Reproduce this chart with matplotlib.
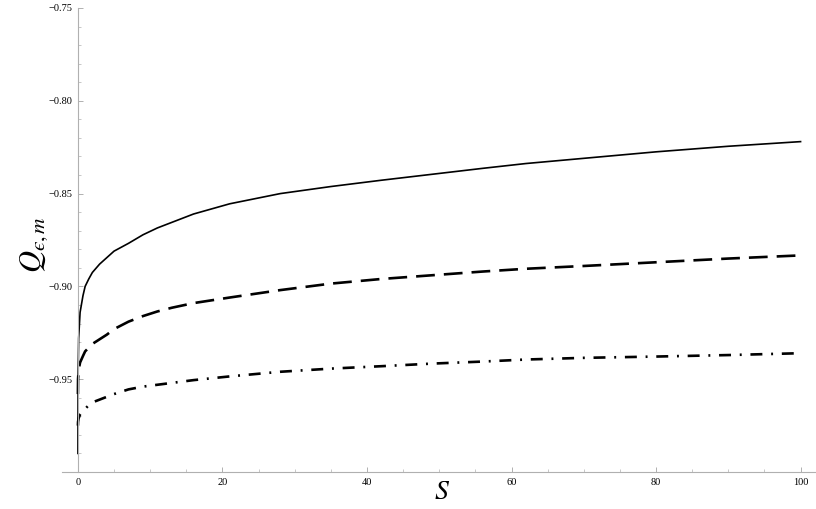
import matplotlib
matplotlib.use("Agg")
import matplotlib.pyplot as plt
from matplotlib.ticker import MultipleLocator, FixedLocator, FuncFormatter

plt.rcParams['font.family'] = ['Liberation Serif', 'DejaVu Serif']
plt.rcParams['mathtext.fontset'] = 'stix'
plt.rcParams['lines.scale_dashes'] = False

# значення
s = [0, 0.02, 0.1, 0.3, 0.7, 1, 1.5, 2, 3, 4, 5, 7, 9, 11, 13, 16, 21, 28, 35, 42, 49, 56,
     62, 70, 80, 90, 100]
q_solid = [-0.990, -0.950, -0.928, -0.914, -0.905, -0.900, -0.896, -0.8925, -0.888, -0.8845,
           -0.881, -0.8768, -0.8722, -0.8685, -0.8655, -0.861, -0.8555, -0.850, -0.8462,
           -0.8428, -0.8396, -0.8364, -0.8338, -0.831, -0.8275, -0.8245, -0.822]
q_dash = [-0.958, -0.950, -0.945, -0.941, -0.9375, -0.935, -0.933, -0.931, -0.9285, -0.926,
          -0.923, -0.919, -0.916, -0.9135, -0.9115, -0.909, -0.906, -0.902, -0.8985, -0.896,
          -0.894, -0.892, -0.8905, -0.889, -0.887, -0.885, -0.8833]
q_dashdot = [-0.975, -0.973, -0.971, -0.969, -0.967, -0.966, -0.964, -0.9625, -0.961, -0.9595,
             -0.958, -0.9555, -0.954, -0.953, -0.952, -0.9505, -0.9485, -0.946, -0.9443,
             -0.943, -0.9416, -0.9405, -0.9394, -0.9385, -0.9378, -0.937, -0.936]

fig = plt.figure(figsize=(8.16, 5.09), dpi=100)
ax = fig.add_axes([0.076, 0.0727, 0.9228, 0.9116])

ax.plot(s, q_solid, color='black', linewidth=1.2)
ax.plot(s, q_dash, color='black', linewidth=1.9, dashes=(13.5, 6.5))
ax.plot(s, q_dashdot, color='black', linewidth=1.9, dashes=(8.6, 6.3, 1.4, 6.3))

ax.set_xlim(-2.2, 102)
ax.set_ylim(-1.0, -0.75)

# осі як у Mathematica
for side in ['top', 'right']:
    ax.spines[side].set_visible(False)
ax.spines['left'].set_position(('data', 0))
for side in ['left', 'bottom']:
    ax.spines[side].set_color('#b0b0b0')
    ax.spines[side].set_linewidth(0.8)

ax.xaxis.set_major_locator(FixedLocator([0, 20, 40, 60, 80, 100]))
ax.xaxis.set_minor_locator(MultipleLocator(5))
ax.yaxis.set_major_locator(FixedLocator([-0.95, -0.90, -0.85, -0.80, -0.75]))
ax.yaxis.set_minor_locator(MultipleLocator(0.01))
ax.xaxis.set_major_formatter(FuncFormatter(lambda v, p: f"{v:g}"))
ax.yaxis.set_major_formatter(FuncFormatter(lambda v, p: f"\u2212{abs(v):.2f}"))

ax.tick_params(which='both', direction='in', colors='#b0b0b0', labelcolor='black', labelsize=7.5)
ax.tick_params(which='major', length=3.5, width=0.7)
ax.tick_params(which='minor', length=2, width=0.5)
ax.tick_params(axis='x', pad=4)
ax.tick_params(axis='y', pad=4)

fig.text(0.542, 0.033, r'$S$', fontsize=20, ha='center', va='center')
ylab = '$Q_{' + '\u03f5' + ',m}$'
fig.text(0.042, 0.52, ylab, fontsize=22, ha='center', va='center', rotation=90)

fig.savefig('out.png', dpi=100)
